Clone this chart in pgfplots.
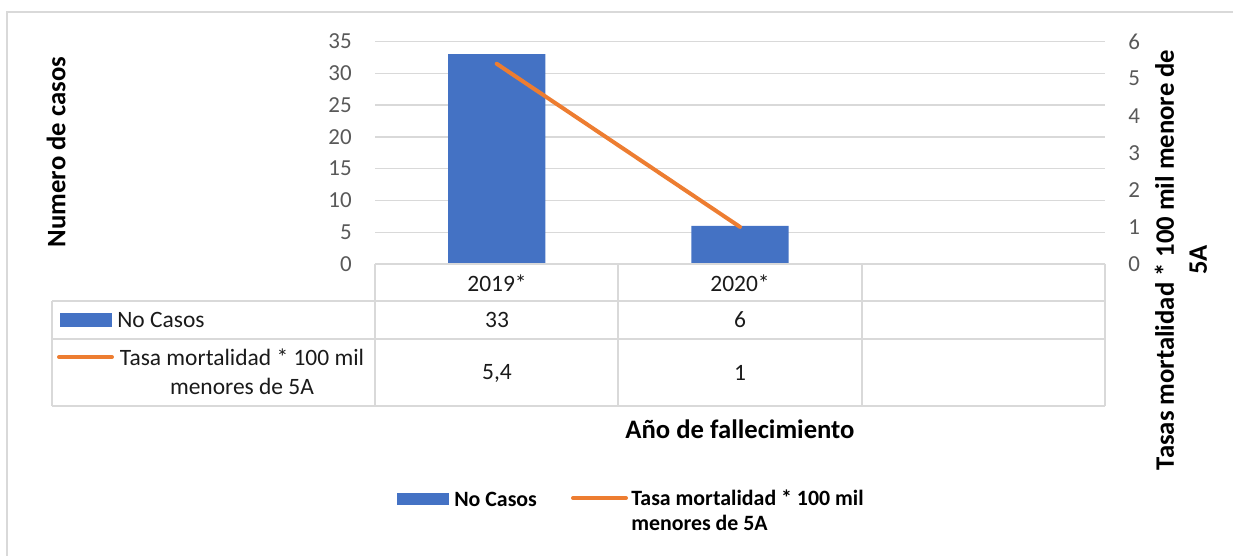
\documentclass[border=0pt]{standalone}
\usepackage{fontspec}
\setmainfont{Carlito}
\usepackage{pgfplots}
\pgfplotsset{compat=1.18}
\definecolor{cblue}{HTML}{4472C4}
\definecolor{corange}{HTML}{ED7D31}
\definecolor{cgrid}{HTML}{D9D9D9}
\definecolor{ctick}{HTML}{595959}
\definecolor{ctext}{HTML}{1A1A1A}
\newcommand{\tickfont}{\fontsize{17.2}{18}\selectfont}
\newcommand{\tabfont}{\fontsize{17.6}{22}\selectfont}
\newcommand{\titlefont}{\fontsize{20}{24.75}\selectfont\bfseries}
\newcommand{\legfont}{\fontsize{16.4}{18.75}\selectfont\bfseries}
\begin{document}
\begin{tikzpicture}
\begin{scope}[x=0.75pt,y=-0.75pt]
\path[use as bounding box] (0,0) rectangle (1233,556);
\draw[cgrid, line width=1.5pt] (7,556) -- (7,12) -- (1233,12);
\end{scope}

\begin{axis}[at={(281.25pt,-198pt)}, anchor=south west, scale only axis,
  width=547.5pt, height=166.875pt,
  xmin=-0.5, xmax=2.5, ymin=0, ymax=35, ytick={0,5,...,35}, xtick=\empty,
  axis line style={draw=none}, major tick length=0pt,
  ymajorgrids, grid style={cgrid, line width=1pt},
  yticklabel style={font=\tickfont, color=ctick, inner sep=0pt, xshift=-17.25pt, anchor=east},
  /pgf/number format/assume math mode=true,
  ybar, bar width=73pt, clip=false]
\addplot[fill=cblue, draw=none] coordinates {(0,33) (1,6)};
\end{axis}

\begin{axis}[at={(281.25pt,-198pt)}, anchor=south west, scale only axis,
  width=547.5pt, height=166.875pt,
  xmin=-0.5, xmax=2.5, ymin=0, ymax=6, ytick={0,1,...,6}, xtick=\empty,
  axis y line*=right, axis x line=none,
  axis line style={draw=none}, major tick length=0pt,
  yticklabel style={font=\tickfont, color=ctick, inner sep=0pt, xshift=17.25pt, anchor=west},
  /pgf/number format/assume math mode=true, clip=false]
\addplot[corange, line width=3pt, line cap=round, mark=none] coordinates {(0,5.4) (1,1)};
\end{axis}

\begin{scope}[x=0.75pt,y=-0.75pt]
% data table grid
\draw[cgrid, line width=1.1pt] (375,264) -- (1105,264);
\draw[cgrid, line width=1.1pt] (52,301) -- (1105,301);
\draw[cgrid, line width=1.1pt] (52,339) -- (1105,339);
\draw[cgrid, line width=1.1pt] (52,406) -- (1105,406);
\draw[cgrid, line width=1.1pt] (52,301) -- (52,406);
\draw[cgrid, line width=1.1pt] (375,264) -- (375,406);
\draw[cgrid, line width=1.1pt] (618,264) -- (618,406);
\draw[cgrid, line width=1.1pt] (862,264) -- (862,406);
\draw[cgrid, line width=1.1pt] (1105,264) -- (1105,406);
% table texts
\node[font=\tabfont, text=ctext] at (497,283) {2019*};
\node[font=\tabfont, text=ctext] at (740,283) {2020*};
\node[font=\tabfont, text=ctext] at (497,320) {33};
\node[font=\tabfont, text=ctext] at (740,320) {6};
\node[font=\tabfont, text=ctext] at (497,373) {5,4};
\node[font=\tabfont, text=ctext] at (740,373) {1};
\fill[cblue] (60,313) rectangle (112,327);
\node[font=\tabfont, text=ctext, anchor=west, inner sep=0pt] at (117,320) {No Casos};
\draw[corange, line width=3pt, line cap=round] (59,357) -- (112,357);
\node[font=\tabfont, text=ctext, align=center, inner sep=0pt] at (242,372) {Tasa mortalidad * 100 mil\\menores de 5A};
% titles
\node[font=\titlefont, rotate=90] at (56,152) {Numero de casos};
\node[font=\titlefont, rotate=90, align=center] at (1181,260) {Tasas mortalidad * 100 mil menore de\\5A};
\node[font=\titlefont] at (740,429) {Año de fallecimiento};
% legend
\fill[cblue] (397,493) rectangle (449,505);
\node[font=\legfont, anchor=west, inner sep=0pt] at (454,499) {No Casos};
\draw[corange, line width=3pt, line cap=round] (573,498) -- (626,498);
\node[font=\legfont, anchor=west, align=left, inner sep=0pt] at (631,510.5) {Tasa mortalidad * 100 mil\\menores de 5A};
\end{scope}
\end{tikzpicture}
\end{document}
